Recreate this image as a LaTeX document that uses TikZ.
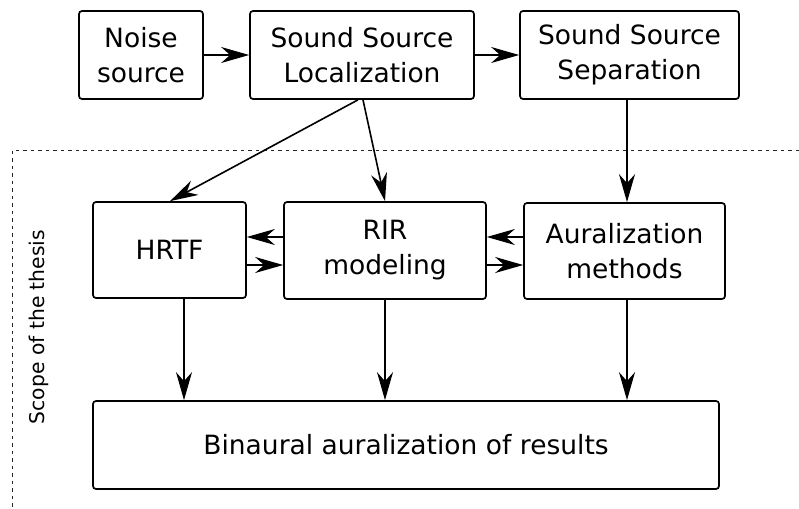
\documentclass[tikz,border=0pt]{standalone}
\usepackage{fontspec}
\setmainfont{DejaVu Sans}
\usetikzlibrary{arrows.meta,calc}
\begin{document}
\begin{tikzpicture}[x=1pt,y=-1pt,
  blk/.style={draw, line width=1.7pt, rounded corners=3pt, align=center,
    font=\fontsize{26.5}{35}\selectfont, inner sep=0pt},
  arr/.style={line width=1.6pt, -{Stealth[length=28pt,width=16pt,inset=9pt]}},
  scopeline/.style={line width=0.9pt, dash pattern=on 3.5pt off 4pt, black!85}
]
\useasboundingbox (0,0) rectangle (799,508);
\node[blk, minimum width=124pt, minimum height=88pt] (noise) at (141,55) {Noise\\source};
\node[blk, minimum width=224pt, minimum height=88pt] (ssl) at (362,55) {Sound Source\\Localization};
\node[blk, minimum width=219pt, minimum height=88pt] (sss) at (629.5,55) {Sound Source\\Separation};
\node[blk, minimum width=153pt, minimum height=96pt] (hrtf) at (169.5,250) {HRTF};
\node[blk, minimum width=202pt, minimum height=97pt] (rir) at (385,250.5) {RIR\\modeling};
\node[blk, minimum width=201pt, minimum height=96pt] (aur) at (624.5,251) {Auralization\\methods};
\node[blk, minimum width=626pt, minimum height=88pt] (bin) at (406,445) {Binaural auralization of results};
\node[rotate=90, font=\fontsize{20.3}{24}\selectfont, inner sep=0pt] (scope) at (39,327) {Scope of the thesis};
\coordinate (dc) at (12,150);
\coordinate (dr) at (799,150);
\coordinate (db) at (12,508);
\draw[scopeline] (dr) -- (dc) -- (db);
% top row
\draw[arr] (noise.east) -- (ssl.west);
\draw[arr] (ssl.east) -- (sss.west);
% from localization
\draw[arr] ($(ssl.south)+(-4,0)$) -- ($(hrtf.north)+(0.5,0)$);
\draw[arr] ($(ssl.south)+(1,0)$) -- (rir.north);
\draw[arr] ($(sss.south)+(-2.5,0)$) -- ($(aur.north)+(2.5,0)$);
% middle row
\draw[arr] ($(rir.west)+(0,-13.5)$) -- ($(hrtf.east)+(0,-13)$);
\draw[arr] ($(hrtf.east)+(0,15)$) -- ($(rir.west)+(0,14.5)$);
\draw[arr] ($(aur.west)+(0,-14)$) -- ($(rir.east)+(0,-13.5)$);
\draw[arr] ($(rir.east)+(0,14.5)$) -- ($(aur.west)+(0,14)$);
% down to binaural
\draw[arr] ($(hrtf.south)+(14.5,0)$) -- (bin.north -| {$(hrtf.south)+(14.5,0)$});
\draw[arr] (rir.south) -- (bin.north -| rir.south);
\draw[arr] ($(aur.south)+(2.5,0)$) -- (bin.north -| {$(aur.south)+(2.5,0)$});
\end{tikzpicture}
\end{document}
